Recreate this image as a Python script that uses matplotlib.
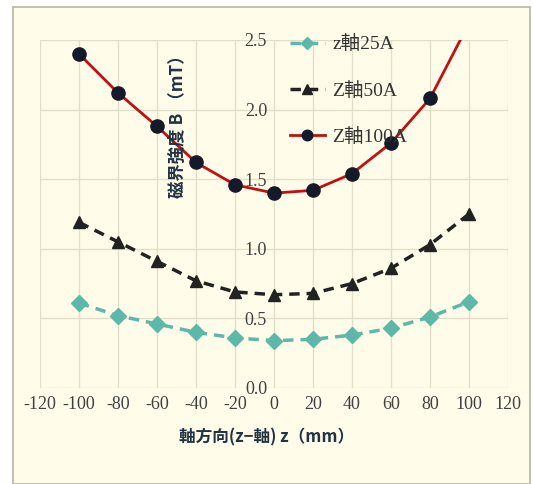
#!/usr/bin/env python

import numpy as np
from matplotlib import pyplot as plt
from matplotlib.patches import Rectangle

plt.rcParams['font.family'] = ['Liberation Serif', 'Noto Sans CJK JP', 'DejaVu Sans']
plt.rcParams['axes.unicode_minus'] = False

# z position (mm)
z_pos = [-100, -80, -60, -40, -20, 0, 20, 40, 60, 80, 100]

# Field strength B (mT) for each coil current
b_25a = [0.61, 0.52, 0.46, 0.40, 0.36, 0.34, 0.35, 0.38, 0.43, 0.51, 0.62]
b_50a = [1.19, 1.05, 0.91, 0.77, 0.69, 0.67, 0.68, 0.75, 0.86, 1.03, 1.25]
b_100a = [2.40, 2.12, 1.88, 1.62, 1.46, 1.40, 1.42, 1.54, 1.76, 2.08, 2.62]

labels = ['z軸25A', 'Z軸50A', 'Z軸100A']
x_ticks = [-120, -100, -80, -60, -40, -20, 0, 20, 40, 60, 80, 100, 120]
y_ticks = [0.0, 0.5, 1.0, 1.5, 2.0, 2.5]

bg = '#fffde9'

fig = plt.figure(figsize=(5.33, 4.84), dpi=100)
fig.patch.set_facecolor('white')
# Chart area frame
fig.patches.append(Rectangle((13 / 533, 0), (530 - 13) / 533, 1 - 7 / 484,
                             transform=fig.transFigure, facecolor=bg,
                             edgecolor='#b8b4a0', linewidth=1.2, zorder=-5))

ax = fig.add_axes([40 / 533, 1 - 388 / 484, 468 / 533, 348 / 484])
ax.set_facecolor(bg)

ax.plot(z_pos, b_25a, color='#5cb8a8', linestyle=(0, (3, 2)), linewidth=2.5,
        marker='D', markersize=8, markerfacecolor='#5cb8a8',
        markeredgecolor='#5cb8a8', label=labels[0], zorder=3)
ax.plot(z_pos, b_50a, color='#222222', linestyle=(0, (3, 2)), linewidth=2.5,
        marker='^', markersize=9, markerfacecolor='#222222',
        markeredgecolor='#222222', label=labels[1], zorder=3)
ax.plot(z_pos, b_100a, color='#c01010', linestyle='-', linewidth=2,
        marker='o', markersize=9.5, markerfacecolor='#151a2a',
        markeredgecolor='#151a2a', label=labels[2], zorder=4)

ax.set_xlim(-120, 120)
ax.set_ylim(0, 2.5)
ax.set_xticks(x_ticks)
ax.set_yticks(y_ticks)
ax.set_yticklabels([f'{v:.1f}' for v in y_ticks])

ax.grid(True, color='#e2dec8', linewidth=1)
ax.set_axisbelow(True)
for s in ax.spines.values():
    s.set_visible(False)
ax.spines['left'].set_position(('data', 0))

ax.tick_params(axis='both', length=0, labelsize=13, colors='#404040')
ax.tick_params(axis='x', pad=6)
ax.tick_params(axis='y', pad=5)

fig.text(0.5, 1 - 437 / 484, '軸方向(z−軸) z（mm）', ha='center', va='center',
         fontsize=12, fontweight='bold', color='#223344',
         family=['Noto Sans CJK JP', 'DejaVu Sans'])
fig.text(178 / 533, 1 - 122 / 484, '磁界強度 B （mT）', ha='center', va='center',
         rotation=90, fontsize=12.5, fontweight='bold', color='#223344',
         family=['Noto Sans CJK JP', 'DejaVu Sans'])

fig.legend(loc='upper left', bbox_to_anchor=(272 / 533, 1 - 18 / 484),
           frameon=False, fontsize=14, labelspacing=1.45, handlelength=1.8,
           handletextpad=0.4, labelcolor='#333333', markerscale=0.8)

fig.savefig('out.png', dpi=100, facecolor=fig.get_facecolor())
